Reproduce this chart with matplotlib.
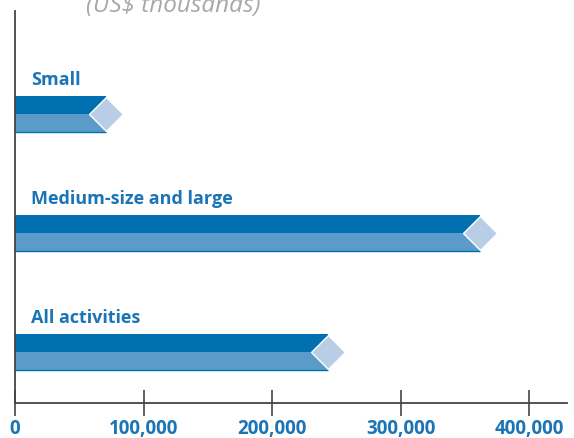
import matplotlib
matplotlib.use("Agg")
import matplotlib.pyplot as plt

categories = ["Small", "Medium-size and large", "All activities"]
values = [70800, 362000, 243600]
xticks = [0, 100000, 200000, 300000, 400000]
xtick_labels = ["0", "100,000", "200,000", "300,000", "400,000"]
title = "(US$ thousands)"

DARK = "#0070B0"
LIGHT = "#5B9BC9"
DIAM = "#B8CEE7"
TXT = "#1A74B5"
AX = "#444444"

plt.rcParams['font.family'] = ['Open Sans', 'DejaVu Sans']

fig = plt.figure(figsize=(5.74, 4.39), dpi=100)
ax = fig.add_axes([15/574, 35/439, (567-15)/574, (404-12)/439])

h = 0.151
for i, v in enumerate(values):
    ax.barh(i - h/2, v, height=h, color=DARK, linewidth=0, zorder=2)
    ax.barh(i + h/2, v, height=h, color=LIGHT, linewidth=0, zorder=2)
    ax.plot([0, v], [i + h, i + h], color=DARK, lw=1.0, zorder=3, solid_capstyle='butt')
    ax.plot([v], [i], marker='D', markersize=17.5, color=DIAM,
            markeredgecolor='white', markeredgewidth=1.0, zorder=4)
    ax.text(12500, i - 0.295, categories[i], color=TXT, fontsize=13,
            fontweight='bold', va='center', ha='left')

ax.set_xlim(0, (567-15)/128.5*100000)
ax.set_ylim(2.43, -0.866)

for s in ['top', 'right']:
    ax.spines[s].set_visible(False)
for s in ['left', 'bottom']:
    ax.spines[s].set_color(AX)
    ax.spines[s].set_linewidth(1.3)

ax.set_yticks([])
ax.set_xticks(xticks)
ax.set_xticklabels(xtick_labels, color=TXT, fontsize=13.5, fontweight='bold')
ax.tick_params(axis='x', direction='inout', length=19, width=1.2, color=AX, pad=1.5)

fig.text(173/574, 1 - 12/439, title, ha='center', va='baseline', fontsize=17.5,
         style='italic', color='#A8A8A8')

fig.savefig("out.png", dpi=100)
